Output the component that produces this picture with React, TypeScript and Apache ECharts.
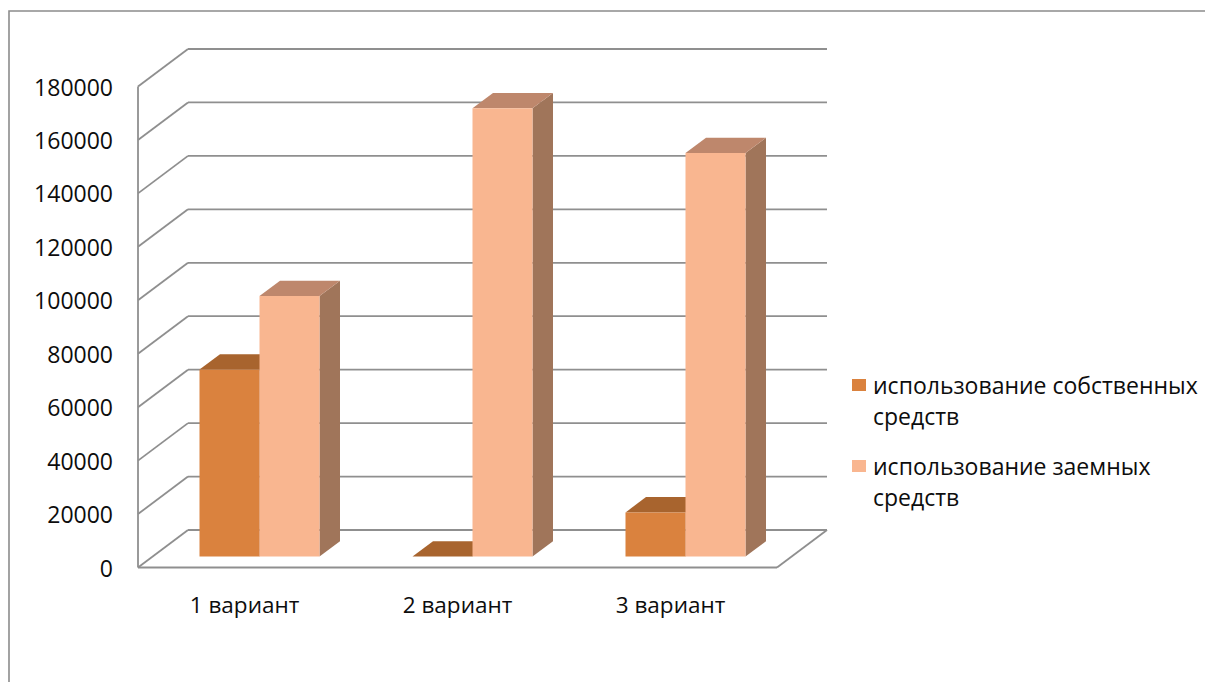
import React, { useEffect, useRef } from "react";
import * as echarts from "echarts";

const categories = ["1 вариант", "2 вариант", "3 вариант"];
const seriesNames = ["использование собственных средств", "использование заемных средств"];
const ownFunds = [70000, 0, 16500];
const borrowedFunds = [97500, 167700, 151000];
const yTicks = [0, 20000, 40000, 60000, 80000, 100000, 120000, 140000, 160000, 180000];

const FONT = "Open Sans";
const WALL_DX = 50;
const WALL_DY = -37.5;
const BAR_DX = 15;
const BAR_DY = -11;
const BAR_DEPTH_X = 20.5;
const BAR_DEPTH_Y = -15.3;
const BAR_FRAC = 60 / 213;
const GRID_COLOR = "#8f8f8f";

const palettes = [
  { front: "#DA823E", top: "#A8642E", side: "#9A5A2A" },
  { front: "#F9B690", top: "#BE876C", side: "#A0755A" },
];

export default function App() {
  const ref = useRef<HTMLDivElement>(null);
  useEffect(() => {
    if (!ref.current) return;
    const chart = echarts.init(ref.current, undefined, { renderer: "svg" });
    const lineStyle = { stroke: GRID_COLOR, lineWidth: 1.8 };

    const wallsRender = (params: any, api: any) => {
      const v = api.value(0);
      const band = api.size([1, 0])[0];
      const pL = api.coord([0, v]);
      const pR = api.coord([categories.length - 1, v]);
      const xL = pL[0] - band / 2;
      const xR = pR[0] + band / 2;
      const y = pL[1];
      const children: any[] = [
        { type: "line", shape: { x1: xL + WALL_DX, y1: y + WALL_DY, x2: xR + WALL_DX, y2: y + WALL_DY }, style: lineStyle },
        { type: "line", shape: { x1: xL, y1: y, x2: xL + WALL_DX, y2: y + WALL_DY }, style: lineStyle },
      ];
      if (v === 0) {
        children.push({ type: "line", shape: { x1: xL, y1: y, x2: xR, y2: y }, style: lineStyle });
        children.push({ type: "line", shape: { x1: xR, y1: y, x2: xR + WALL_DX, y2: y + WALL_DY }, style: lineStyle });
      }
      if (v === yTicks[yTicks.length - 1]) {
        const y0 = api.coord([0, 0])[1];
        children.push({ type: "line", shape: { x1: xL, y1: y0, x2: xL, y2: y }, style: lineStyle });
      }
      return { type: "group", children };
    };

    const barRender = (s: number) => (params: any, api: any) => {
      const cat = api.value(0);
      const val = api.value(1);
      const p = api.coord([cat, val]);
      const p0 = api.coord([cat, 0]);
      const band = api.size([1, 0])[0];
      const w = band * BAR_FRAC;
      const left = p[0] + BAR_DX + (s === 0 ? -w : 0);
      const yt = p[1] + BAR_DY;
      const yb = p0[1] + BAR_DY;
      const pal = palettes[s];
      return {
        type: "group",
        children: [
          {
            type: "polygon",
            shape: { points: [[left + w, yt], [left + w + BAR_DEPTH_X, yt + BAR_DEPTH_Y], [left + w + BAR_DEPTH_X, yb + BAR_DEPTH_Y], [left + w, yb]] },
            style: { fill: pal.side },
          },
          {
            type: "polygon",
            shape: { points: [[left, yt], [left + w, yt], [left + w + BAR_DEPTH_X, yt + BAR_DEPTH_Y], [left + BAR_DEPTH_X, yt + BAR_DEPTH_Y]] },
            style: { fill: pal.top },
          },
          { type: "rect", shape: { x: left, y: yt, width: w, height: yb - yt }, style: { fill: pal.front } },
        ],
      };
    };

    const option: any = {
      animation: false,
      textStyle: { fontFamily: FONT },
      graphic: [
        {
          type: "rect",
          shape: { x: 9, y: 11, width: 1400, height: 900 },
          style: { fill: "none", stroke: "#8c8c8c", lineWidth: 1.6 },
          silent: true,
          z: -10,
        },
      ],
      grid: { left: 138, right: 428, top: 86.5, bottom: 114.5, containLabel: false },
      xAxis: {
        type: "category",
        data: categories,
        axisLine: { show: false },
        axisTick: { show: false },
        axisLabel: { margin: 25, fontSize: 22.5, color: "#0d0d0d", fontFamily: FONT },
      },
      yAxis: {
        type: "value",
        min: 0,
        max: 180000,
        interval: 20000,
        axisLine: { show: false },
        axisTick: { show: false },
        splitLine: { show: false },
        axisLabel: {
          margin: 25,
          fontSize: 23,
          color: "#0d0d0d",
          fontFamily: FONT,
          formatter: (v: number) => String(v),
        },
      },
      legend: {
        orient: "vertical",
        left: 852,
        top: 338.5,
        padding: 0,
        itemWidth: 14,
        itemHeight: 12,
        itemGap: -12,
        icon: "rect",
        data: seriesNames,
        formatter: (name: string) => "\n" + name.replace(/ средств$/, "\nсредств"),
        textStyle: { fontSize: 23, lineHeight: 31, color: "#0d0d0d", fontFamily: FONT, padding: [0, 0, 0, 2] },
      },
      series: [
        {
          type: "custom",
          name: "walls",
          silent: true,
          z: 1,
          renderItem: wallsRender,
          data: yTicks.map((v) => [v]),
          encode: { y: 0 },
        },
        {
          type: "custom",
          name: seriesNames[0],
          z: 2,
          itemStyle: { color: palettes[0].front },
          renderItem: barRender(0),
          data: ownFunds.map((v, i) => [i, v]),
          encode: { x: 0, y: 1 },
        },
        {
          type: "custom",
          name: seriesNames[1],
          z: 3,
          itemStyle: { color: palettes[1].front },
          renderItem: barRender(1),
          data: borrowedFunds.map((v, i) => [i, v]),
          encode: { x: 0, y: 1 },
        },
      ],
    };
    chart.setOption(option);
    return () => chart.dispose();
  }, []);
  return (
    <div
      ref={ref}
      style={{ position: "fixed", left: 0, top: 0, width: 1205, height: 682, background: "#fff" }}
    />
  );
}
